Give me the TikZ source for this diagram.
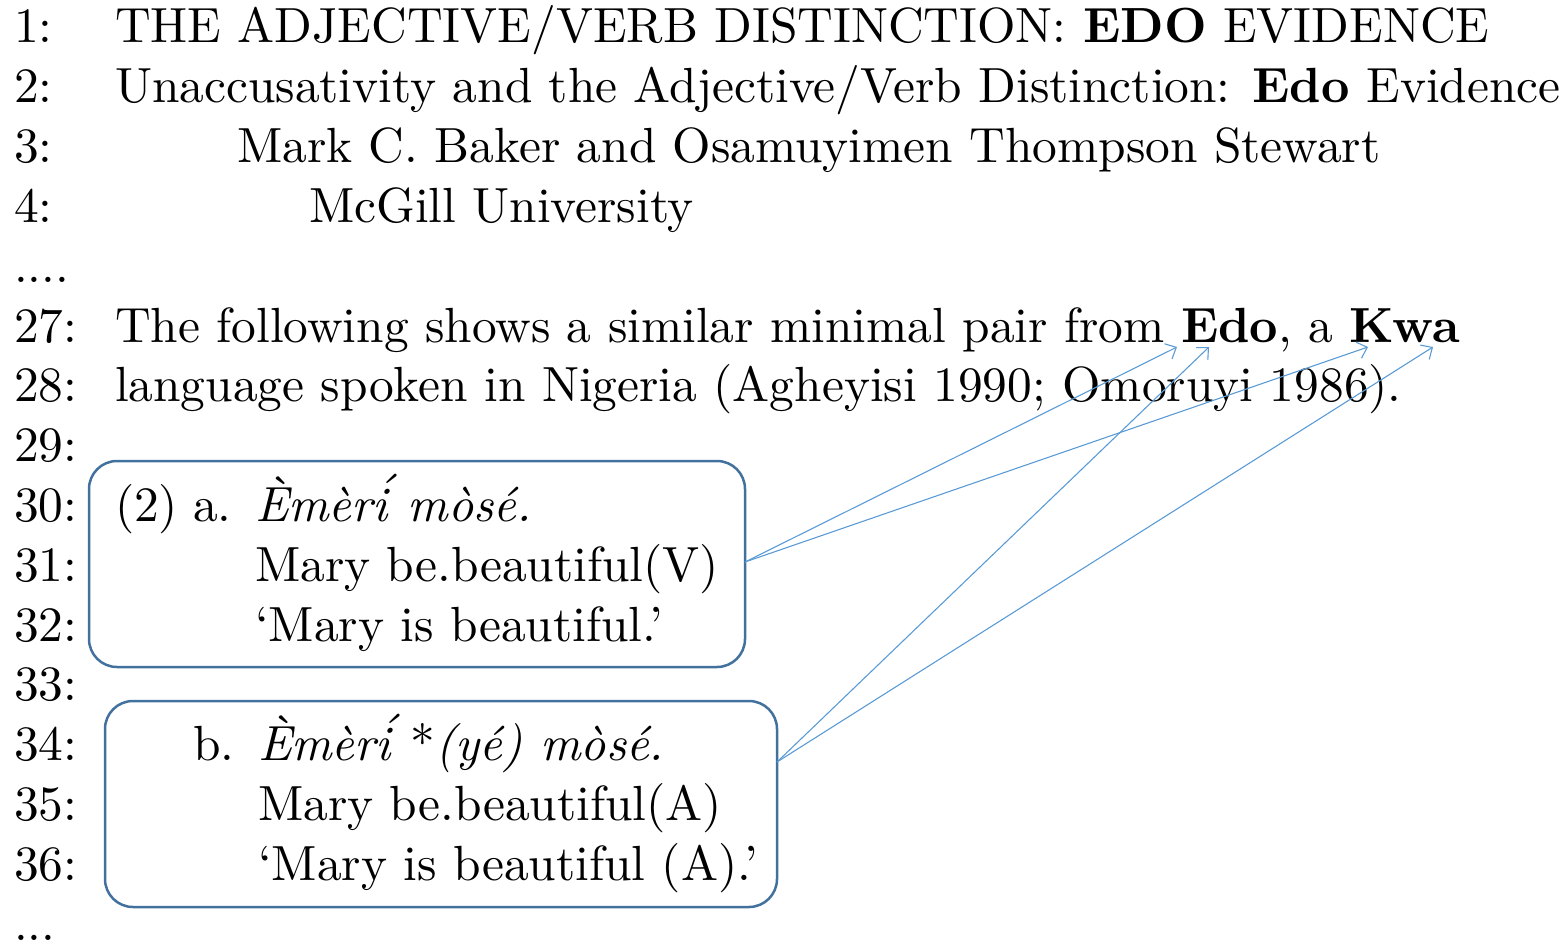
\documentclass[tikz,border=0pt]{standalone}
\usepackage{fontspec}
% the 10pt design size throughout, scaled up
\setmainfont{lmroman10-regular.otf}[
  BoldFont=lmroman10-bold.otf,
  ItalicFont=lmroman10-italic.otf,
  BoldItalicFont=lmroman10-bolditalic.otf]
\usetikzlibrary{arrows.meta}
\definecolor{boxblue}{HTML}{41719C}
\definecolor{linkblue}{HTML}{5B9BD5}
% acute set above the dot of i, as the \accent primitive places it
\newcommand{\iacute}{\accent"B4 i\/}
\tikzset{
  txt/.style={anchor=base west, inner sep=0pt, outer sep=0pt,
    font=\fontsize{49.4}{60}\selectfont},
  exbox/.style={draw=boxblue, line width=2.5pt, rounded corners=28pt},
  link/.style={draw=linkblue, line width=1.1pt,
    -{Straight Barb[length=9pt,width=17pt,line width=1.1pt]}}
}
\begin{document}
\begin{tikzpicture}[x=1pt,y=-1pt]
\useasboundingbox (0,0) rectangle (1565,944);
% line numbers
\foreach \n/\lab in {0/{1:},1/{2:},2/{3:},3/{4:},4/{....},5/{27:},6/{28:},7/{29:},8/{30:},9/{31:},10/{32:},11/{33:},12/{34:},13/{35:},14/{36:},15/{...}}
  \node[txt] (n\n) at (14,{43+\n*59.8}) {\lab};
% header and running text
\node[txt] (l1) at (115,43) {THE ADJECTIVE/VERB DISTINCTION: \textbf{EDO} EVIDENCE};
\node[txt] (l2) at (115,{43+59.8}) {Unaccusativity and the Adjective/Verb Distinction: \textbf{Edo} Evidence};
\node[txt] (l3) at (237,{43+2*59.8}) {Mark C. Baker and Osamuyimen Thompson Stewart};
\node[txt] (l4) at (309,{43+3*59.8}) {McGill University};
\node[txt] (l27) at (115,{43+5*59.8}) {The following shows a similar minimal pair from \textbf{Edo}, a \textbf{Kwa}};
\node[txt] (l28) at (115,{43+6*59.8}) {language spoken in Nigeria (Agheyisi 1990; Omoruyi 1986).};
% example (2a)
\node[txt] (ex2) at (115,{43+8*59.8}) {(2)};
\node[txt] (exa) at (193,{43+8*59.8}) {a.};
\node[txt] (a1) at (255,{43+8*59.8}) {\itshape \`Em\`er\iacute\ m\`os\'e.};
\node[txt] (a2) at (255,{43+9*59.8}) {Mary be.beautiful(V)};
\node[txt] (a3) at (255,{43+10*59.8}) {‘Mary is beautiful.’};
% example (2b)
\node[txt] (exb) at (193,{43+12*59.8}) {b.};
\node[txt] (b1) at (258,{43+12*59.8}) {\itshape \`Em\`er\iacute\ \upshape*\itshape(y\'e) m\`os\'e.};
\node[txt] (b2) at (258,{43+13*59.8}) {Mary be.beautiful(A)};
\node[txt] (b3) at (258,{43+14*59.8}) {‘Mary is beautiful (A).’};
% frames round the two examples
\draw[exbox] (89,461) rectangle (745,667);
\coordinate (aR) at (745,562);
\draw[exbox] (105,701) rectangle (777,907);
\coordinate (bR) at (777,762);
% targets under the bold words
\coordinate (t1) at (1177,347);
\coordinate (t2) at (1209,347);
\coordinate (t3) at (1368,347);
\coordinate (t4) at (1433,347);
\draw[link] (aR) -- (t1);
\draw[link] (aR) -- (t3);
\draw[link] (bR) -- (t2);
\draw[link] (bR) -- (t4);
\end{tikzpicture}
\end{document}
